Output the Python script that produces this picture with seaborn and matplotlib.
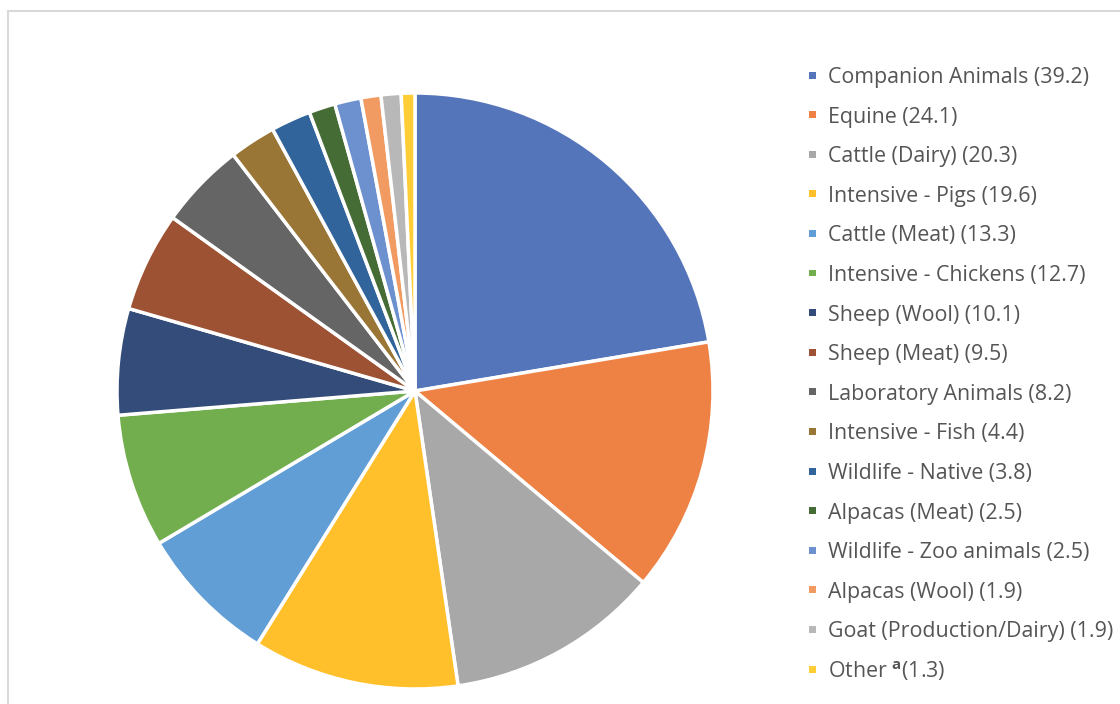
import matplotlib
matplotlib.use("Agg")
import matplotlib.pyplot as plt
import seaborn as sns
from matplotlib.patches import Rectangle

categories = ["Companion Animals", "Equine", "Cattle (Dairy)", "Intensive - Pigs",
              "Cattle (Meat)", "Intensive - Chickens", "Sheep (Wool)", "Sheep (Meat)",
              "Laboratory Animals", "Intensive - Fish", "Wildlife - Native",
              "Alpacas (Meat)", "Wildlife - Zoo animals", "Alpacas (Wool)",
              "Goat (Production/Dairy)", "Other"]
values = [39.2, 24.1, 20.3, 19.6, 13.3, 12.7, 10.1, 9.5, 8.2, 4.4, 3.8, 2.5, 2.5, 1.9, 1.9, 1.3]
labels = [f"{c} ({v})" for c, v in zip(categories, values)]
labels[-1] = "Other $^{\\mathbf{a}}$(1.3)"

colors = sns.color_palette(["#5575BA", "#EE8245", "#A8A8A8", "#FFC02C", "#619ED6",
                            "#72AE4E", "#344C7A", "#9D5234", "#656565", "#9A7636",
                            "#30649A", "#466C35", "#6D90CF", "#F19A62", "#B8B8B8",
                            "#FFCD36"])

sns.set_theme(style="white")
plt.rcParams['font.family'] = ['Open Sans', 'DejaVu Sans']
plt.rcParams['mathtext.fontset'] = 'custom'
plt.rcParams['mathtext.rm'] = 'Open Sans'
plt.rcParams['mathtext.bf'] = 'Open Sans:bold'

W, H = 1120, 704
fig = plt.figure(figsize=(W / 100, H / 100), dpi=100)
fig.patch.set_facecolor("white")

# chart border
fig.patches.append(Rectangle((7.5 / W, -0.05), 1.1, (H - 10.5) / H + 0.05,
                             transform=fig.transFigure, fill=False,
                             edgecolor="#D9D9D9", linewidth=1.5))

cx, cy, r = 415, 391, 298
ax = fig.add_axes([(cx - r) / W, (H - cy - r) / H, 2 * r / W, 2 * r / H])
ax.pie(values, colors=colors, startangle=90, counterclock=False, radius=1,
       wedgeprops=dict(edgecolor="white", linewidth=2.5))
ax.set_xlim(-1.0, 1.0)
ax.set_ylim(-1.0, 1.0)
ax.set_aspect("equal")
ax.axis("off")

# legend
y0, dy = 75, 39.6
for i, (lab, col) in enumerate(zip(labels, colors)):
    y = y0 + dy * i
    fig.patches.append(Rectangle(((812 - 3.5) / W, (H - y - 3.5) / H), 7 / W, 7 / H,
                                 transform=fig.transFigure, facecolor=col,
                                 edgecolor="none"))
    fig.text(828 / W, (H - y) / H, lab, fontsize=15.4, color="#555555",
             va="center_baseline", ha="left")

fig.savefig("out.png", dpi=100)
